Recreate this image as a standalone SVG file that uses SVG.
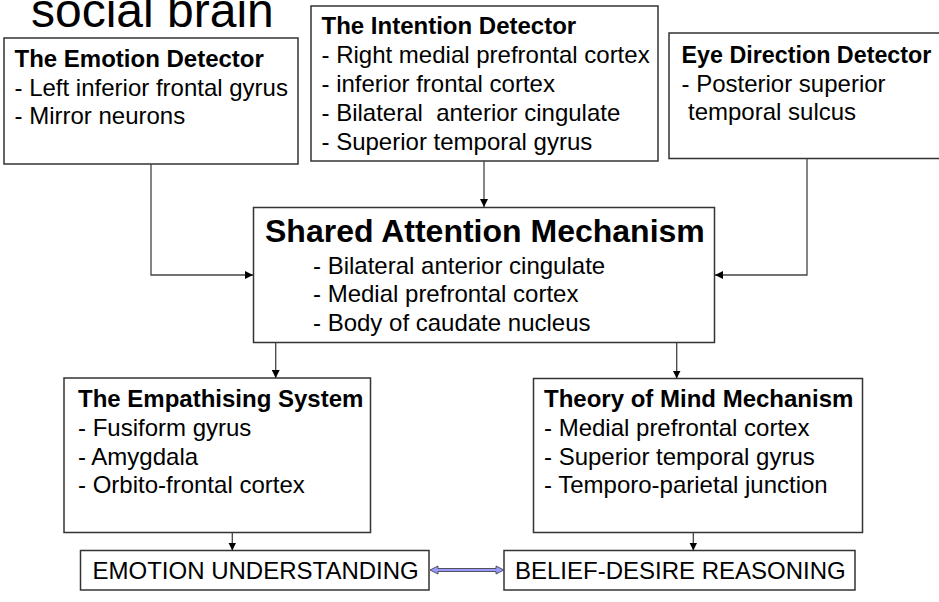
<svg xmlns="http://www.w3.org/2000/svg" width="939" height="602" viewBox="0 0 939 602">
<defs>
<style>
text{font-family:"Liberation Sans",Arial,sans-serif;fill:#000;}
.t{font-size:24px;font-weight:bold;}
.b{font-size:24px;}
.big{font-size:32px;font-weight:bold;}
.box{fill:#fff;stroke:#333;stroke-width:1.5;}
.c{fill:none;stroke:#444;stroke-width:1.3;}
</style>
<marker id="ah" viewBox="0 0 10 10" refX="10" refY="5" markerWidth="8" markerHeight="8" markerUnits="userSpaceOnUse" orient="auto">
<path d="M0,0 L10,5 L0,10 z" fill="#000"/>
</marker>
</defs>
<rect width="939" height="602" fill="#fff"/>
<text x="31" y="27" style="font-size:48px">social brain</text>

<g id="emotion-detector">
<rect class="box" x="4" y="38" width="294" height="126"/>
<text class="t" x="14.5" y="66.5">The Emotion Detector</text>
<text class="b" x="14.5" y="95.5">- Left inferior frontal gyrus</text>
<text class="b" x="14.5" y="124">- Mirror neurons</text>
</g>

<g id="intention-detector">
<rect class="box" x="311" y="6" width="347" height="155"/>
<text class="t" x="321.5" y="33.5">The Intention Detector</text>
<text class="b" x="321.5" y="62.5">- Right medial prefrontal cortex</text>
<text class="b" x="321.5" y="91.5">- inferior frontal cortex</text>
<text class="b" x="321.5" y="121" xml:space="preserve">- Bilateral  anterior cingulate</text>
<text class="b" x="321.5" y="150">- Superior temporal gyrus</text>
</g>

<g id="eye-direction-detector">
<rect class="box" x="669" y="33" width="280" height="125.5"/>
<text class="t" x="681.5" y="62.5" style="font-size:23.3px">Eye Direction Detector</text>
<text class="b" x="681.5" y="91.5">- Posterior superior</text>
<text class="b" x="688" y="119.5">temporal sulcus</text>
</g>

<g id="shared-attention">
<rect class="box" x="253.5" y="207.5" width="461" height="135"/>
<text class="big" x="265" y="241.5">Shared Attention Mechanism</text>
<text class="b" x="313" y="273.5">- Bilateral anterior cingulate</text>
<text class="b" x="313" y="302">- Medial prefrontal cortex</text>
<text class="b" x="313" y="330.5">- Body of caudate nucleus</text>
</g>

<g id="empathising-system">
<rect class="box" x="64" y="378" width="306.5" height="154.5"/>
<text class="t" x="78" y="407">The Empathising System</text>
<text class="b" x="78" y="436">- Fusiform gyrus</text>
<text class="b" x="78" y="464.5">- Amygdala</text>
<text class="b" x="78" y="493.3">- Orbito-frontal cortex</text>
</g>

<g id="theory-of-mind">
<rect class="box" x="533.5" y="378.5" width="329" height="154"/>
<text class="t" x="544" y="407">Theory of Mind Mechanism</text>
<text class="b" x="544" y="436">- Medial prefrontal cortex</text>
<text class="b" x="544" y="464.5">- Superior temporal gyrus</text>
<text class="b" x="544" y="493.3">- Temporo-parietal junction</text>
</g>

<g id="emotion-understanding">
<rect class="box" x="80.5" y="550.5" width="348.5" height="39.5"/>
<text class="b" x="92.5" y="579.3">EMOTION UNDERSTANDING</text>
</g>

<g id="belief-desire">
<rect class="box" x="504" y="550.5" width="351" height="39.5"/>
<text class="b" x="515" y="579.3">BELIEF-DESIRE REASONING</text>
</g>

<g id="connectors">
<path class="c" d="M151,164 V275 H253" marker-end="url(#ah)"/>
<path class="c" d="M484,161 V207" marker-end="url(#ah)"/>
<path class="c" d="M807,158.5 V275 H715" marker-end="url(#ah)"/>
<path class="c" d="M275.7,342.5 V378" marker-end="url(#ah)"/>
<path class="c" d="M676.7,342.5 V378.5" marker-end="url(#ah)"/>
<path class="c" d="M232.3,532.5 V550.5" marker-end="url(#ah)"/>
<path class="c" d="M693.3,532.5 V550.5" marker-end="url(#ah)"/>
<polygon points="430,570 438,566 438,568.5 496,568.5 496,566 504,570 496,574 496,571.5 438,571.5 438,574" fill="#9999ff" stroke="#333" stroke-width="0.8"/>
</g>
</svg>
